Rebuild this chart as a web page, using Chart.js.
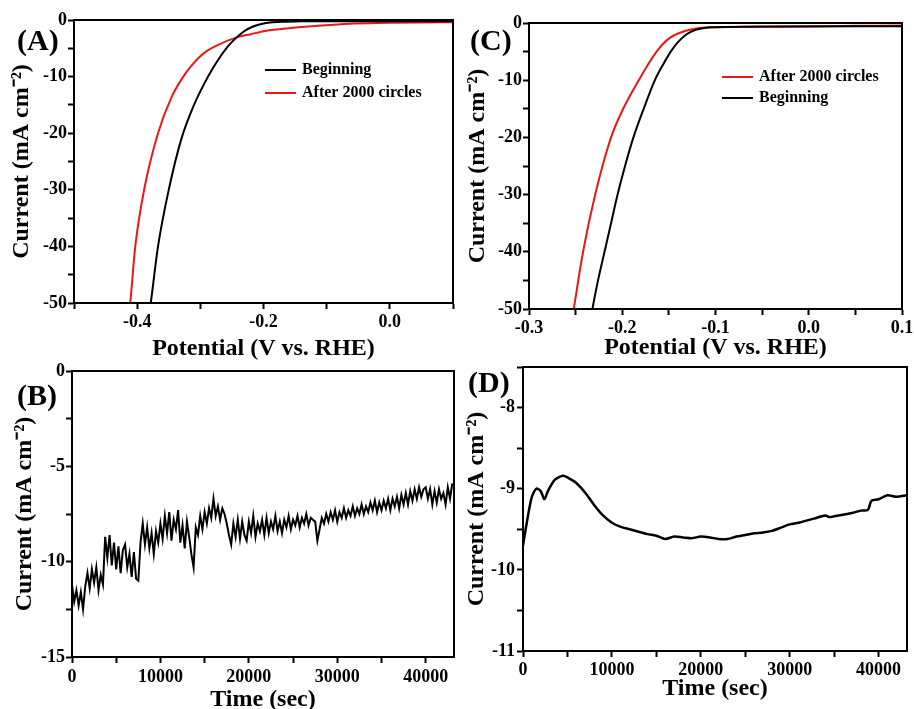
<!DOCTYPE html>
<html>
<head>
<meta charset="utf-8">
<script src="https://cdn.jsdelivr.net/npm/chart.js@4.4.1/dist/chart.umd.min.js"></script>
<style>
    html, body { margin: 0; padding: 0; background: #fff; width: 914px; height: 709px; overflow: hidden; }
    body { position: relative; }
    canvas { position: absolute; }
</style>
</head>
<body>
<canvas id="chartA" width="460" height="362" style="left:0;top:0"></canvas>
<canvas id="chartC" width="480" height="362" style="left:457px;top:0"></canvas>
<canvas id="chartB" width="460" height="362" style="left:0;top:350px"></canvas>
<canvas id="chartD" width="480" height="359" style="left:457px;top:350px"></canvas>
<script>
// (A) polarization curves, catalyst 1
const potBeginA = [-0.384, -0.3785, -0.367, -0.350, -0.330, -0.310, -0.295, -0.280, -0.268, -0.256, -0.2425, -0.230, -0.2175, -0.205, -0.190, -0.170, -0.140, -0.100, -0.050, 0.0, 0.05, 0.1];
const curBeginA = [-54, -50, -40, -30, -21, -15, -11.5, -8.5, -6.4, -4.6, -3.07, -1.95, -1.2, -0.75, -0.45, -0.3, -0.24, -0.2, -0.2, -0.2, -0.2, -0.2];
const potAfterA = [-0.4155, -0.411, -0.403, -0.389, -0.367, -0.345, -0.327, -0.315, -0.303, -0.290, -0.276, -0.2425, -0.220, -0.197, -0.160, -0.118, -0.065, 0.0, 0.05, 0.1];
const curAfterA = [-54, -50, -40, -30, -20, -13.5, -10, -8.2, -6.7, -5.5, -4.6, -3.07, -2.5, -1.94, -1.45, -1.06, -0.65, -0.5, -0.42, -0.38];

// (C) polarization curves, catalyst 2
const potAfterC = [-0.254, -0.252, -0.242, -0.229, -0.212, -0.199, -0.183, -0.163, -0.149, -0.1275, -0.1025, -0.08, -0.05, 0.0, 0.05, 0.1];
const curAfterC = [-52, -50, -40, -30, -20, -15, -10.2, -4.96, -2.6, -1.17, -0.76, -0.68, -0.62, -0.55, -0.5, -0.45];
const potBeginC = [-0.234, -0.232, -0.226, -0.219, -0.212, -0.205, -0.197, -0.188, -0.177, -0.165, -0.156, -0.148, -0.140, -0.132, -0.124, -0.115, -0.105, -0.09, -0.06, 0.0, 0.05, 0.1];
const curBeginC = [-52, -50, -45, -40, -35, -30, -25, -20, -15, -10, -7.2, -5.0, -3.3, -2.1, -1.35, -0.95, -0.75, -0.68, -0.65, -0.6, -0.57, -0.55];

// (B) chronoamperometry, one reading every 250 s
const stepB = 250;
const currentB = [
    -11.2, -12.1, -11.5, -12.3, -11.6, -12.5, -11.3,
    -10.6, -11.4, -10.4, -11.1, -10.3, -11.5, -10.7, -11.2,
    -8.7, -9.8, -8.6, -10.2, -9.0, -10.4, -9.2, -10.6, -9.4, -9.1, -10.3, -9.6, -10.8, -9.5, -10.9,
    -11.0, -9.0,
    -8.0, -9.1, -8.2, -9.3, -8.5, -9.6, -8.4, -9.0,
    -8.0, -8.8, -7.6, -8.5, -7.4, -8.9, -7.8, -8.3, -7.3, -9.0, -8.1, -9.3, -7.9, -8.7,
    -9.6, -10.3,
    -8.2, -8.6, -7.6, -8.3, -7.4, -8.0, -7.2, -7.7,
    -6.7, -7.6, -7.1, -7.8, -7.2, -7.5,
    -8.0, -8.6, -9.1, -8.0, -8.7,
    -7.8, -8.8, -7.9, -8.6, -8.9, -7.9, -8.5, -7.6, -8.7, -8.0,
    -8.4, -7.8, -8.6, -7.7, -8.5, -7.9, -8.3, -7.6, -8.4, -7.9, -8.5, -7.8, -8.2, -7.6, -8.3, -7.8, -8.1, -7.6, -8.2, -7.7, -8.0, -7.5, -8.1, -7.7, -7.8, -7.9,
    -8.9, -8.3, -7.7,
    -8.0, -7.5, -7.9, -7.4, -7.8, -7.3, -7.9, -7.4, -7.7, -7.2, -7.7, -7.3, -7.6, -7.1, -7.6, -7.2, -7.5, -7.0, -7.5, -7.1, -7.4, -6.9, -7.3, -6.8, -7.4, -6.9,
    -7.3, -6.8, -7.2, -6.7, -7.3, -6.7, -7.1, -6.6, -7.2, -6.5, -7.0, -6.4, -7.0, -6.3, -6.8, -6.2, -6.7, -6.1, -6.6, -6.2,
    -6.1, -6.7, -6.2, -7.0, -6.3, -6.9, -6.2, -6.7, -6.4, -7.0, -6.1, -6.7, -5.9
];

// (D) chronoamperometry, catalyst 2
const timeD = [0, 300, 700, 1000, 1500, 2000, 2400, 2800, 3500, 4000, 4500, 5000, 6000, 7000, 8000, 9000, 10000, 11000, 12000, 13000,
    14000, 15000, 16000, 17000, 18000, 19000, 20000, 21000, 22000, 23000, 24000, 25000, 26000, 27000, 28000, 29000, 30000, 31000, 32000, 33000,
    34000, 34500, 35000, 36000, 37000, 38000, 38800, 39200, 40000, 41000, 42000, 43200];
const currentD = [-9.7, -9.5, -9.25, -9.1, -9.0, -9.03, -9.13, -9.03, -8.9, -8.86, -8.84, -8.86, -8.93, -9.05, -9.2, -9.33, -9.42, -9.47, -9.5, -9.53,
    -9.56, -9.58, -9.62, -9.59, -9.6, -9.61, -9.59, -9.6, -9.62, -9.62, -9.59, -9.57, -9.55, -9.54, -9.52, -9.48, -9.44, -9.42, -9.39, -9.36,
    -9.33, -9.35, -9.34, -9.32, -9.3, -9.27, -9.26, -9.15, -9.13, -9.08, -9.1, -9.08];

// ticks: labelled ones and small ones
const xMajorA = [-0.4, -0.2, 0.0];
const xMinorA = [-0.5, -0.3, -0.1, 0.1];
const xMajorC = [-0.3, -0.2, -0.1, 0.0, 0.1];
const xMinorC = [-0.25, -0.15, -0.05, 0.05];
const yMajorAC = [0, -10, -20, -30, -40, -50];
const yMinorAC = [-5, -15, -25, -35, -45];
const xMajorT = [0, 10000, 20000, 30000, 40000];
const xMinorT = [5000, 15000, 25000, 35000];
const yMajorB = [0, -5, -10, -15];
const yMinorB = [-2.5, -7.5, -12.5];
const yMajorD = [-8, -9, -10, -11];
const yMinorD = [-7.5, -8.5, -9.5, -10.5];

const RED = 'rgb(232,24,24)';
const SERIF = "'Liberation Serif', 'Times New Roman', serif";

function pts(xs, ys) {
    return xs.map((x, i) => ({ x: x, y: ys[i] }));
}

function isMajor(list, v) {
    return list.some(m => Math.abs(m - v) < 1e-9);
}

function axis(opts) {
    const all = opts.major.concat(opts.minor).sort((a, b) => a - b);
    return {
        type: 'linear',
        min: opts.min,
        max: opts.max,
        afterBuildTicks: s => { s.ticks = all.map(v => ({ value: v })); },
        afterFit: s => {
            if (opts.width) s.width = opts.width;
            if (opts.height) s.height = opts.height;
        },
        ticks: {
            autoSkip: false,
            maxRotation: 0,
            padding: opts.tickPad,
            color: '#000',
            font: { family: SERIF, size: 18, weight: 'bold' },
            callback: v => isMajor(opts.major, v) ? opts.fmt(v) : ''
        },
        grid: { drawOnChartArea: false, drawTicks: true, tickLength: 6, tickWidth: 2, tickColor: '#000' },
        border: { display: true, color: '#000', width: 2 },
        title: {
            display: true,
            text: opts.title,
            color: '#000',
            font: { family: SERIF, size: 24, weight: 'bold', lineHeight: 1 },
            padding: opts.titlePad
        }
    };
}

const panelPlugin = {
    id: 'panelDeco',
    afterDraw(chart, args, o) {
        const ctx = chart.ctx;
        const a = chart.chartArea;
        ctx.save();
        // box frame
        ctx.strokeStyle = '#000';
        ctx.lineWidth = 2;
        ctx.strokeRect(a.left, a.top, a.right - a.left, a.bottom - a.top);
        // panel letter
        ctx.fillStyle = '#000';
        ctx.font = 'bold 30px ' + SERIF;
        ctx.textBaseline = 'alphabetic';
        ctx.fillText(o.letter, o.lx, o.ly);
        // legend
        if (o.legend) {
            ctx.font = 'bold 16px ' + SERIF;
            ctx.textBaseline = 'middle';
            o.legend.forEach(item => {
                ctx.strokeStyle = item.color;
                ctx.lineWidth = 2;
                ctx.beginPath();
                ctx.moveTo(o.legX, item.y);
                ctx.lineTo(o.legX + 31, item.y);
                ctx.stroke();
                ctx.fillStyle = '#000';
                ctx.fillText(item.text, o.legX + 37, item.y);
            });
        }
        ctx.restore();
    }
};

function makeChart(id, cfg) {
    return new Chart(document.getElementById(id), {
        type: 'line',
        data: { datasets: cfg.datasets },
        options: {
            responsive: false,
            animation: false,
            events: [],
            layout: { padding: cfg.padding },
            plugins: {
                legend: { display: false },
                tooltip: { enabled: false },
                panelDeco: cfg.deco
            },
            elements: { point: { radius: 0 } },
            scales: { x: axis(cfg.x), y: axis(cfg.y) }
        },
        plugins: [panelPlugin]
    });
}

const fmt1 = v => (Math.round(v * 10) / 10).toFixed(1);
const fmtInt = v => String(Math.round(v));
const potTitle = 'Potential (V vs. RHE)';
const curTitle = 'Current (mA cm\u207B\u00B2)';
const timeTitle = 'Time (sec)';

makeChart('chartA', {
    padding: { left: 0, top: 20, right: 7, bottom: 0 },
    datasets: [
        { data: pts(potBeginA, curBeginA), borderColor: '#000', borderWidth: 2, cubicInterpolationMode: 'monotone' },
        { data: pts(potAfterA, curAfterA), borderColor: RED, borderWidth: 2, cubicInterpolationMode: 'monotone' }
    ],
    x: { min: -0.5, max: 0.1, major: xMajorA, minor: xMinorA, fmt: fmt1, height: 59, tickPad: 3, title: potTitle, titlePad: { top: 0, bottom: 1 } },
    y: { min: -50, max: 0, major: yMajorAC, minor: yMinorAC, fmt: fmtInt, width: 74, tickPad: 1, title: curTitle, titlePad: { top: 10, bottom: 0 } },
    deco: { letter: '(A)', lx: 17, ly: 50, legX: 265, legend: [
        { text: 'Beginning', color: '#000', y: 70 },
        { text: 'After 2000 circles', color: RED, y: 93 }
    ] }
});

makeChart('chartC', {
    padding: { left: 0, top: 23, right: 35, bottom: 0 },
    datasets: [
        { data: pts(potBeginC, curBeginC), borderColor: '#000', borderWidth: 2, cubicInterpolationMode: 'monotone' },
        { data: pts(potAfterC, curAfterC), borderColor: RED, borderWidth: 2, cubicInterpolationMode: 'monotone' }
    ],
    x: { min: -0.3, max: 0.1, major: xMajorC, minor: xMinorC, fmt: fmt1, height: 53, tickPad: 3, title: potTitle, titlePad: { top: 0, bottom: 2 } },
    y: { min: -50, max: 0, major: yMajorAC, minor: yMinorAC, fmt: fmtInt, width: 72, tickPad: 1, title: curTitle, titlePad: { top: 9, bottom: 0 } },
    deco: { letter: '(C)', lx: 13, ly: 50, legX: 265, legend: [
        { text: 'After 2000 circles', color: RED, y: 77 },
        { text: 'Beginning', color: '#000', y: 98 }
    ] }
});

makeChart('chartB', {
    padding: { left: 0, top: 21, right: 6, bottom: 0 },
    datasets: [
        { data: currentB.map((v, i) => ({ x: i * stepB, y: v })), borderColor: '#000', borderWidth: 2, tension: 0 }
    ],
    x: { min: 0, max: 43200, major: xMajorT, minor: xMinorT, fmt: fmtInt, height: 55, tickPad: 4, title: timeTitle, titlePad: { top: 0, bottom: 0 } },
    y: { min: -15, max: 0, major: yMajorB, minor: yMinorB, fmt: fmtInt, width: 72, tickPad: 1, title: curTitle, titlePad: { top: 13, bottom: 0 } },
    deco: { letter: '(B)', lx: 17, ly: 55 }
});

makeChart('chartD', {
    padding: { left: 0, top: 17, right: 30, bottom: 0 },
    datasets: [
        { data: pts(timeD, currentD), borderColor: '#000', borderWidth: 2.5, tension: 0.3 }
    ],
    x: { min: 0, max: 43200, major: xMajorT, minor: xMinorT, fmt: fmtInt, height: 58, tickPad: 3, title: timeTitle, titlePad: { top: 0, bottom: 8 } },
    y: { min: -11, max: -7.5, major: yMajorD, minor: yMinorD, fmt: fmtInt, width: 66, tickPad: 2, title: curTitle, titlePad: { top: 8, bottom: 0 } },
    deco: { letter: '(D)', lx: 11, ly: 42 }
});
</script>
</body>
</html>
